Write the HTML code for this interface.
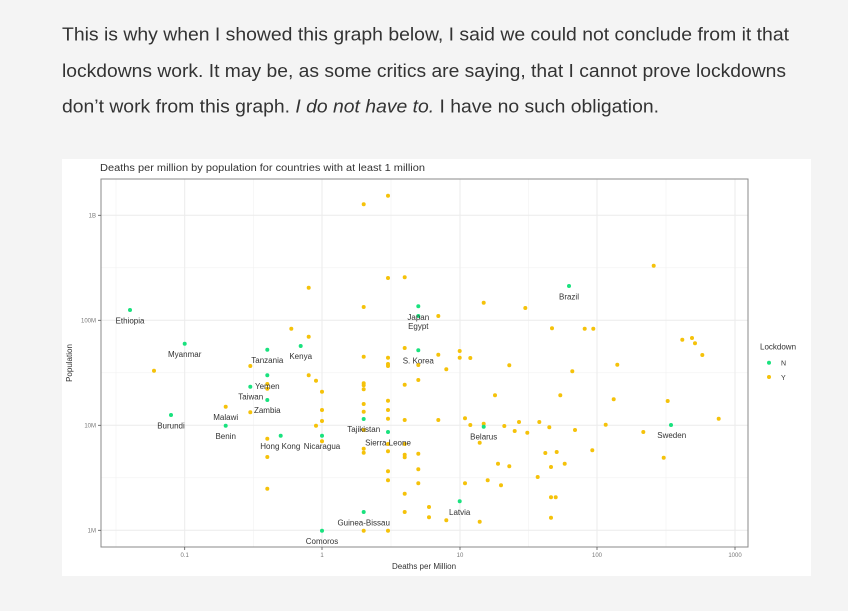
<!DOCTYPE html>
<html><head><meta charset="utf-8"><style>
html,body{margin:0;padding:0;background:#f4f4f4;}
svg{display:block;}
</style></head><body>
<svg width="848" height="611" viewBox="0 0 848 611" xmlns="http://www.w3.org/2000/svg" font-family="'Liberation Sans', sans-serif">
<rect width="848" height="611" fill="#f4f4f4"/>
<g fill="#333" font-size="18">
<text x="62" y="40.5" textLength="727" lengthAdjust="spacingAndGlyphs">This is why when I showed this graph below, I said we could not conclude from it that</text>
<text x="62" y="77" textLength="724" lengthAdjust="spacingAndGlyphs">lockdowns work. It may be, as some critics are saying, that I cannot prove lockdowns</text>
<text x="62" y="112.5" textLength="597" lengthAdjust="spacingAndGlyphs">don’t work from this graph. <tspan font-style="italic">I do not have to.</tspan> I have no such obligation.</text>
</g>
<rect x="62" y="159" width="749" height="417" fill="#fff"/>
<text x="100" y="171" font-size="10" fill="#333" textLength="325" lengthAdjust="spacingAndGlyphs">Deaths per million by population for countries with at least 1 million</text>
<!-- grid -->
<g stroke="#f2f2f2" stroke-width="0.6">
<line x1="101" x2="748" y1="267.8" y2="267.8"/><line x1="101" x2="748" y1="372.8" y2="372.8"/><line x1="101" x2="748" y1="477.8" y2="477.8"/>
<line x1="116" x2="116" y1="179" y2="547"/><line x1="253.5" x2="253.5" y1="179" y2="547"/><line x1="391" x2="391" y1="179" y2="547"/><line x1="528.5" x2="528.5" y1="179" y2="547"/><line x1="666" x2="666" y1="179" y2="547"/>
</g>
<g stroke="#ebebeb" stroke-width="1">
<line x1="101" x2="748" y1="215.3" y2="215.3"/><line x1="101" x2="748" y1="320.3" y2="320.3"/><line x1="101" x2="748" y1="425.3" y2="425.3"/><line x1="101" x2="748" y1="530.3" y2="530.3"/>
<line x1="184.7" x2="184.7" y1="179" y2="547"/><line x1="322" x2="322" y1="179" y2="547"/><line x1="460" x2="460" y1="179" y2="547"/><line x1="597" x2="597" y1="179" y2="547"/><line x1="735" x2="735" y1="179" y2="547"/>
</g>
<rect x="101" y="179" width="647" height="368" fill="none" stroke="#8a8a8a" stroke-width="1"/>
<g stroke="#555" stroke-width="0.8">
<line x1="98" x2="101" y1="215.3" y2="215.3"/><line x1="98" x2="101" y1="320.3" y2="320.3"/><line x1="98" x2="101" y1="425.3" y2="425.3"/><line x1="98" x2="101" y1="530.3" y2="530.3"/>
<line x1="184.7" x2="184.7" y1="547" y2="550"/><line x1="322" x2="322" y1="547" y2="550"/><line x1="460" x2="460" y1="547" y2="550"/><line x1="597" x2="597" y1="547" y2="550"/><line x1="735" x2="735" y1="547" y2="550"/>
</g>
<g font-size="6" fill="#777" text-anchor="end">
<text x="96" y="217.5">1B</text><text x="96" y="322.5">100M</text><text x="96" y="427.5">10M</text><text x="96" y="532.5">1M</text>
</g>
<g font-size="6" fill="#777" text-anchor="middle">
<text x="184.7" y="557">0.1</text><text x="322" y="557">1</text><text x="460" y="557">10</text><text x="597" y="557">100</text><text x="735" y="557">1000</text>
</g>
<text x="424" y="569" font-size="8" fill="#333" text-anchor="middle">Deaths per Million</text>
<text transform="translate(72,363) rotate(-90)" font-size="8" fill="#333" text-anchor="middle">Population</text>
<!-- gold points -->
<g fill="#f5c20a">
<circle cx="363.7" cy="204.3" r="2"/><circle cx="388" cy="195.7" r="2"/><circle cx="388" cy="278" r="2"/><circle cx="404.7" cy="277.3" r="2"/><circle cx="308.7" cy="287.7" r="2"/><circle cx="363.7" cy="307" r="2"/><circle cx="438.3" cy="316" r="2"/><circle cx="291.3" cy="328.7" r="2"/><circle cx="308.7" cy="336.7" r="2"/><circle cx="363.7" cy="356.7" r="2"/><circle cx="388" cy="357.7" r="2"/><circle cx="404.7" cy="348" r="2"/><circle cx="438.3" cy="354.7" r="2"/><circle cx="459.7" cy="351" r="2"/><circle cx="459.7" cy="357.7" r="2"/>
<circle cx="154" cy="370.7" r="2"/><circle cx="250.3" cy="366" r="2"/><circle cx="308.7" cy="375.3" r="2"/><circle cx="316" cy="380.7" r="2"/><circle cx="322" cy="391.7" r="2"/><circle cx="363.7" cy="383.3" r="2"/><circle cx="363.7" cy="385.3" r="2"/><circle cx="363.7" cy="389.3" r="2"/><circle cx="388" cy="364" r="2"/><circle cx="388" cy="366" r="2"/><circle cx="404.7" cy="384.7" r="2"/><circle cx="418.3" cy="380" r="2"/><circle cx="418.3" cy="365" r="2"/><circle cx="446.3" cy="369.3" r="2"/><circle cx="267.3" cy="384" r="2"/><circle cx="267.3" cy="388.7" r="2"/><circle cx="225.7" cy="406.7" r="2"/><circle cx="250.3" cy="412.3" r="2"/><circle cx="322" cy="410" r="2"/><circle cx="322" cy="421" r="2"/><circle cx="316" cy="425.7" r="2"/><circle cx="363.7" cy="404" r="2"/><circle cx="363.7" cy="411.7" r="2"/><circle cx="388" cy="400.7" r="2"/><circle cx="388" cy="410" r="2"/><circle cx="388" cy="418.7" r="2"/><circle cx="404.7" cy="420" r="2"/><circle cx="438.3" cy="420" r="2"/><circle cx="363.7" cy="430" r="2"/><circle cx="267.3" cy="438.7" r="2"/><circle cx="322" cy="441.3" r="2"/><circle cx="388" cy="444" r="2"/><circle cx="404.7" cy="444" r="2"/><circle cx="363.7" cy="448.7" r="2"/><circle cx="363.7" cy="452.7" r="2"/><circle cx="388" cy="451.3" r="2"/><circle cx="404.7" cy="454.7" r="2"/><circle cx="404.7" cy="457.3" r="2"/><circle cx="418.3" cy="453.7" r="2"/><circle cx="267.3" cy="457" r="2"/><circle cx="388" cy="471.3" r="2"/><circle cx="418.3" cy="469.3" r="2"/><circle cx="388" cy="480.3" r="2"/><circle cx="418.3" cy="483.3" r="2"/><circle cx="267.3" cy="488.7" r="2"/><circle cx="404.7" cy="493.7" r="2"/><circle cx="404.7" cy="512" r="2"/><circle cx="429" cy="507" r="2"/><circle cx="429" cy="517.3" r="2"/><circle cx="446.3" cy="520.3" r="2"/><circle cx="363.7" cy="530.7" r="2"/><circle cx="388" cy="530.7" r="2"/>
<circle cx="653.7" cy="265.7" r="2"/><circle cx="483.7" cy="302.7" r="2"/><circle cx="525.3" cy="308" r="2"/><circle cx="552" cy="328.3" r="2"/><circle cx="584.7" cy="328.7" r="2"/><circle cx="593.3" cy="328.7" r="2"/><circle cx="682.3" cy="339.7" r="2"/><circle cx="692" cy="338" r="2"/><circle cx="695" cy="343.3" r="2"/><circle cx="702.3" cy="355" r="2"/><circle cx="470.3" cy="358" r="2"/><circle cx="509.3" cy="365.3" r="2"/><circle cx="617.3" cy="364.7" r="2"/><circle cx="572.3" cy="371.3" r="2"/><circle cx="495" cy="395.3" r="2"/><circle cx="560.3" cy="395.3" r="2"/><circle cx="613.7" cy="399.3" r="2"/><circle cx="667.7" cy="401" r="2"/><circle cx="718.7" cy="418.7" r="2"/><circle cx="465" cy="418.3" r="2"/><circle cx="470.3" cy="425" r="2"/><circle cx="483.7" cy="423.7" r="2"/><circle cx="504.3" cy="426" r="2"/><circle cx="519" cy="422" r="2"/><circle cx="539.3" cy="422" r="2"/><circle cx="549.3" cy="427.3" r="2"/><circle cx="514.7" cy="431" r="2"/><circle cx="527.3" cy="432.7" r="2"/><circle cx="575" cy="430" r="2"/><circle cx="605.7" cy="424.7" r="2"/><circle cx="643.3" cy="432" r="2"/><circle cx="479.7" cy="442.7" r="2"/><circle cx="545.3" cy="453" r="2"/><circle cx="556.7" cy="452" r="2"/><circle cx="592.3" cy="450.3" r="2"/><circle cx="663.7" cy="457.7" r="2"/><circle cx="498" cy="463.7" r="2"/><circle cx="509.3" cy="466.3" r="2"/><circle cx="551" cy="467" r="2"/><circle cx="564.7" cy="463.7" r="2"/><circle cx="537.7" cy="477" r="2"/><circle cx="487.7" cy="480.3" r="2"/><circle cx="465" cy="483.3" r="2"/><circle cx="501" cy="485.3" r="2"/><circle cx="551" cy="497.3" r="2"/><circle cx="555.7" cy="497.3" r="2"/><circle cx="479.7" cy="521.7" r="2"/><circle cx="551" cy="517.7" r="2"/>
<circle cx="769" cy="377" r="2"/>
</g>
<!-- green points -->
<g fill="#19e27e">
<circle cx="130" cy="310" r="2"/><circle cx="184.7" cy="343.7" r="2"/><circle cx="267.3" cy="349.7" r="2"/><circle cx="300.7" cy="346" r="2"/><circle cx="418.3" cy="306.3" r="2"/><circle cx="418.3" cy="316" r="2"/><circle cx="418.3" cy="350.3" r="2"/>
<circle cx="267.3" cy="375.3" r="2"/><circle cx="250.3" cy="386.7" r="2"/><circle cx="267.3" cy="400" r="2"/><circle cx="171" cy="415" r="2"/><circle cx="225.7" cy="425.7" r="2"/><circle cx="280.7" cy="435.7" r="2"/><circle cx="322" cy="435.7" r="2"/><circle cx="363.7" cy="419" r="2"/><circle cx="388" cy="432" r="2"/><circle cx="363.7" cy="512" r="2"/><circle cx="322" cy="530.7" r="2"/><circle cx="459.7" cy="501.3" r="2"/>
<circle cx="569" cy="286" r="2"/><circle cx="483.7" cy="426.7" r="2"/><circle cx="671" cy="425" r="2"/>
<circle cx="769" cy="362.7" r="2"/>
</g>
<!-- labels -->
<g font-size="8" fill="#333" text-anchor="middle">
<text x="130" y="323.5">Ethiopia</text><text x="184.7" y="357">Myanmar</text><text x="267.3" y="363">Tanzania</text><text x="300.7" y="359">Kenya</text><text x="418.3" y="320">Japan</text><text x="418.3" y="329">Egypt</text><text x="418.3" y="363.5">S. Korea</text>
<text x="267.3" y="389">Yemen</text><text x="250.7" y="399.5">Taiwan</text><text x="267.3" y="413">Zambia</text><text x="225.7" y="420">Malawi</text><text x="171" y="428.5">Burundi</text><text x="225.7" y="439">Benin</text><text x="280.3" y="449">Hong Kong</text><text x="322" y="449">Nicaragua</text><text x="363.7" y="432">Tajikistan</text><text x="388" y="445.5">Sierra Leone</text><text x="363.7" y="525.5">Guinea-Bissau</text><text x="322" y="544">Comoros</text><text x="459.7" y="515">Latvia</text>
<text x="569" y="299.5">Brazil</text><text x="483.7" y="439.5">Belarus</text><text x="671.7" y="438">Sweden</text>
</g>
<text x="760" y="349.5" font-size="8" fill="#333">Lockdown</text>
<text x="781" y="365.5" font-size="7" fill="#333">N</text>
<text x="781" y="380" font-size="7" fill="#333">Y</text>
</svg>
</body></html>
